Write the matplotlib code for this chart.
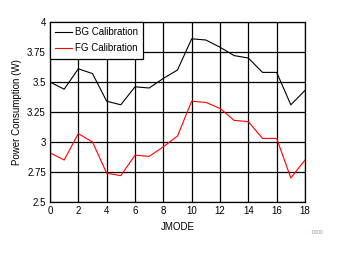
import matplotlib
matplotlib.use("Agg")
import matplotlib.pyplot as plt
from matplotlib.ticker import MultipleLocator

plt.rcParams['font.family'] = ['Liberation Sans', 'DejaVu Sans']

jmode = list(range(19))
bg_cal = [3.50, 3.44, 3.61, 3.57, 3.34, 3.31, 3.46, 3.45, 3.53, 3.60, 3.86, 3.85,
          3.79, 3.72, 3.70, 3.58, 3.58, 3.31, 3.43]
fg_cal = [2.91, 2.85, 3.07, 3.00, 2.74, 2.72, 2.89, 2.88, 2.96, 3.05, 3.34, 3.33,
          3.28, 3.18, 3.17, 3.03, 3.03, 2.70, 2.85]
yticks = [2.5, 2.75, 3, 3.25, 3.5, 3.75, 4]
ytick_labels = ["2.5", "2.75", "3", "3.25", "3.5", "3.75", "4"]

fig = plt.figure(figsize=(3.38, 2.54), dpi=100)
ax = fig.add_axes([50/338, 1-202/254, 255/338, 180/254])
ax.plot(jmode, bg_cal, color='black', lw=0.8, label='BG Calibration')
ax.plot(jmode, fg_cal, color='red', lw=0.8, label='FG Calibration')
ax.set_xlim(0, 18)
ax.set_ylim(2.5, 4)
ax.xaxis.set_major_locator(MultipleLocator(2))
ax.set_yticks(yticks)
ax.set_yticklabels(ytick_labels)
ax.grid(True, color='black', lw=0.9)
ax.tick_params(length=0, labelsize=7, pad=3)
for s in ax.spines.values():
    s.set_linewidth(0.9)
ax.set_xlabel('JMODE', fontsize=7, labelpad=4)
ax.set_ylabel('Power Consumption (W)', fontsize=7, labelpad=4)
leg = ax.legend(loc='upper left', fontsize=7, frameon=True, fancybox=False,
                edgecolor='black', framealpha=1, borderaxespad=0,
                handlelength=1.7, handletextpad=0.3, borderpad=0.55,
                labelspacing=0.6)
leg.get_frame().set_linewidth(0.9)
fig.text(323/338, 1-232/254, 'D000', fontsize=3.5, color='#8899aa', ha='right', va='center')
fig.savefig('out.png', dpi=100)
